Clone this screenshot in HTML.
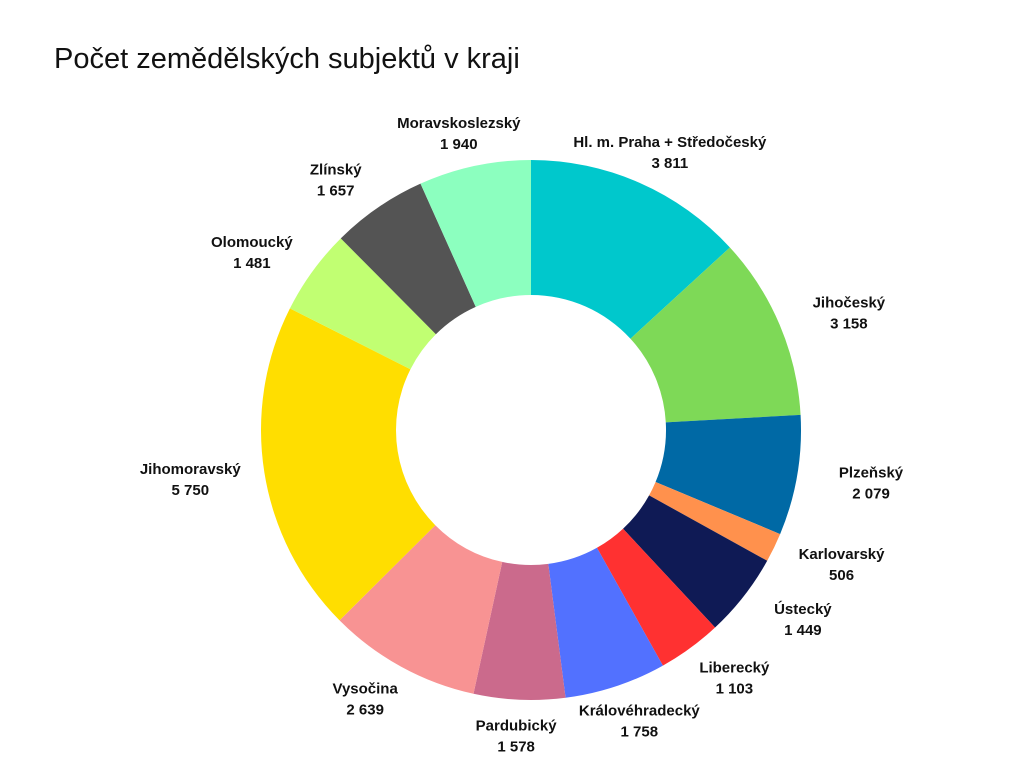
<!DOCTYPE html>
<html><head><meta charset="utf-8"><style>
body{margin:0;background:#fff;}
svg{display:block;font-family:"Liberation Sans",sans-serif;}
</style></head><body>
<svg id="chart" width="1024" height="768">
<text x="54" y="68" font-size="29" fill="#111">Počet zemědělských subjektů v kraji</text>
<g id="slices"></g><g id="labels"></g>
</svg>
<script>
const categories=["Hl. m. Praha + Středočeský","Jihočeský","Plzeňský","Karlovarský","Ústecký","Liberecký","Královéhradecký","Pardubický","Vysočina","Jihomoravský","Olomoucký","Zlínský","Moravskoslezský"];
const values=[3811,3158,2079,506,1449,1103,1758,1578,2639,5750,1481,1657,1940];
const valueLabels=["3 811","3 158","2 079","506","1 449","1 103","1 758","1 578","2 639","5 750","1 481","1 657","1 940"];
const colors=["#00C8CC","#7ED957","#0069A5","#FF914D","#0F1A55","#FF3131","#5271FF","#CB6A8C","#F89393","#FFDE00","#C1FF72","#545454","#8CFFBF"];
const cx=531,cy=430,R=270,r=135,LRX=345,LRY=305;
const ns="http://www.w3.org/2000/svg";
const total=values.reduce((a,b)=>a+b,0);
function pt(a,rad){return [cx+rad*Math.sin(a),cy-rad*Math.cos(a)];}
let cum=0;
const gs=document.getElementById('slices'),gl=document.getElementById('labels');
values.forEach((v,i)=>{
 const a0=cum/total*2*Math.PI;cum+=v;const a1=cum/total*2*Math.PI;
 const large=(a1-a0)>Math.PI?1:0;
 const [x0,y0]=pt(a0,R),[x1,y1]=pt(a1,R),[x2,y2]=pt(a1,r),[x3,y3]=pt(a0,r);
 const p=document.createElementNS(ns,'path');
 p.setAttribute('d',`M${x0},${y0}A${R},${R} 0 ${large} 1 ${x1},${y1}L${x2},${y2}A${r},${r} 0 ${large} 0 ${x3},${y3}Z`);
 p.setAttribute('fill',colors[i]);
 
 
 gs.appendChild(p);
 const am=(a0+a1)/2;
 const lx=cx+LRX*Math.sin(am),ly=cy-LRY*Math.cos(am);
 const t=document.createElementNS(ns,'text');
 t.setAttribute('x',lx);t.setAttribute('y',ly-4);
 t.setAttribute('text-anchor','middle');t.setAttribute('font-size','15');t.setAttribute('font-weight','bold');t.setAttribute('fill','#111');
 
 
 const s1=document.createElementNS(ns,'tspan');s1.setAttribute('x',lx);s1.textContent=categories[i];
 const s2=document.createElementNS(ns,'tspan');s2.setAttribute('x',lx);s2.setAttribute('dy','21');s2.textContent=valueLabels[i];
 t.appendChild(s1);t.appendChild(s2);gl.appendChild(t);
});
</script>
</body></html>
